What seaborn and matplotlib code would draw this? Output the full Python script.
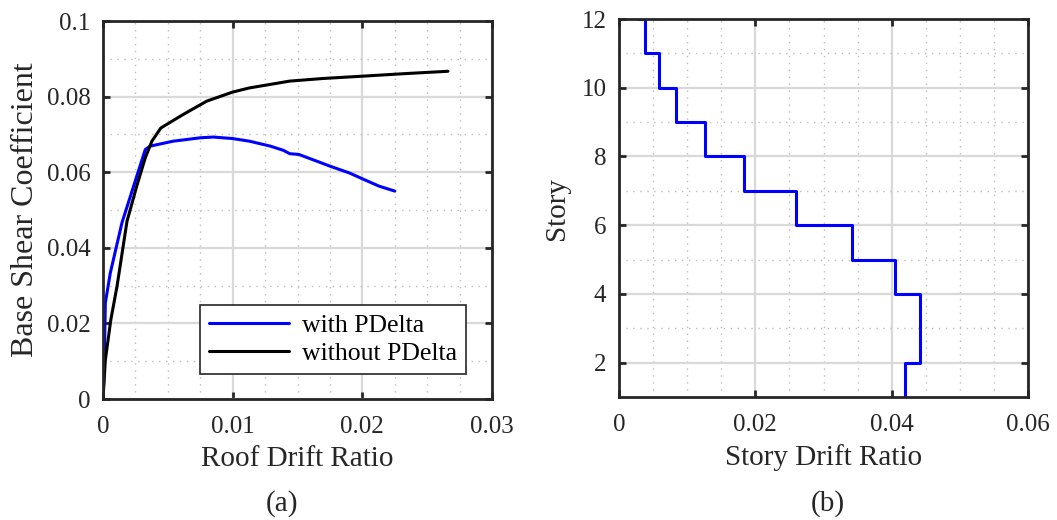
import numpy as np
import pandas as pd
import matplotlib
matplotlib.use("Agg")
import matplotlib.pyplot as plt
from matplotlib.ticker import MultipleLocator, FuncFormatter
import seaborn as sns

# ---- data ----
roof_drift_with = [0.0, 0.00008, 0.00018, 0.00056, 0.00146, 0.00236, 0.00326, 0.00364, 0.0054,
                   0.0075, 0.0085, 0.0100, 0.0113, 0.0129, 0.0139, 0.0144, 0.0151, 0.0165,
                   0.0175, 0.0190, 0.0203, 0.0213, 0.0225]
base_shear_with = [0.0, 0.0064, 0.0254, 0.0333, 0.0466, 0.0563, 0.0660, 0.0669, 0.0682,
                   0.0691, 0.0693, 0.0689, 0.0682, 0.0669, 0.0658, 0.0649, 0.0647, 0.0629,
                   0.0616, 0.0598, 0.0578, 0.0563, 0.0550]

roof_drift_without = [0.0, 0.00018, 0.0006, 0.00108, 0.00185, 0.0026, 0.00326, 0.00377, 0.00446,
                      0.0062, 0.0080, 0.0100, 0.0113, 0.0144, 0.0170, 0.0200, 0.0234, 0.0266]
base_shear_without = [0.0, 0.0103, 0.0209, 0.0298, 0.0470, 0.0563, 0.0638, 0.0682, 0.0717,
                      0.0753, 0.0788, 0.0812, 0.0823, 0.0841, 0.0848, 0.0854, 0.0861, 0.0867]

stories = [1, 2, 3, 4, 5, 6, 7, 8, 9, 10, 11, 12]
story_drift = [0.0420, 0.0442, 0.0442, 0.0405, 0.0342, 0.0259, 0.0184, 0.0126,
               0.0083, 0.0058, 0.0038, 0.0028]

legend_labels = ["with PDelta", "without PDelta"]

# ---- style ----
sns.set_style("white")
plt.rcParams["font.family"] = ["Liberation Serif", "DejaVu Serif"]

fig = plt.figure(figsize=(10.57, 5.2), dpi=100)
ax1 = fig.add_axes([103/1057, 1-399/520, 389/1057, 378/520])
ax2 = fig.add_axes([619/1057, 1-397/520, 409/1057, 378/520])

sns.lineplot(x=roof_drift_with, y=base_shear_with, ax=ax1, color="#0000ff", lw=2.2,
             sort=False, estimator=None, label=legend_labels[0])
sns.lineplot(x=roof_drift_without, y=base_shear_without, ax=ax1, color="black", lw=2.2,
             sort=False, estimator=None, label=legend_labels[1])

sns.lineplot(x=story_drift, y=stories, ax=ax2, color="#0000ff", lw=2.2, sort=False,
             estimator=None, orient="y", drawstyle="steps-pre")

fmt = FuncFormatter(lambda v, p: f"{v:g}")

def style(ax, xlim, ylim, xmaj, xmin, ymaj, ymin):
    ax.set_xlim(*xlim)
    ax.set_ylim(*ylim)
    ax.xaxis.set_major_locator(MultipleLocator(xmaj))
    ax.xaxis.set_minor_locator(MultipleLocator(xmin))
    ax.yaxis.set_major_locator(MultipleLocator(ymaj))
    ax.yaxis.set_minor_locator(MultipleLocator(ymin))
    ax.xaxis.set_major_formatter(fmt)
    ax.yaxis.set_major_formatter(fmt)
    ax.grid(which="major", color="#d9d9d9", lw=1.6, ls="-")
    ax.grid(which="minor", color="#bdbdbd", lw=1.0, ls=(0, (1, 4)))
    ax.set_axisbelow(True)
    for s in ax.spines.values():
        s.set_color("#262626")
        s.set_linewidth(2.0)
        s.set_visible(True)
        s.set_zorder(5)
    ax.tick_params(which="major", direction="in", length=5, width=2, color="#262626",
                   top=True, right=True, bottom=True, left=True, labelsize=18,
                   labelcolor="#262626")
    ax.tick_params(which="minor", length=0)
    ax.tick_params(axis="x", pad=12)
    ax.tick_params(axis="y", pad=9)

style(ax1, (0, 0.03), (0, 0.1), 0.01, 0.0025, 0.02, 0.01)
style(ax2, (0, 0.06), (1, 12), 0.02, 0.005, 2, 1)

ax1.set_xlabel("Roof Drift Ratio", fontsize=21, color="#262626", labelpad=6)
ax1.set_ylabel("Base Shear Coefficient", fontsize=23, color="#262626", labelpad=5)
ax2.set_xlabel("Story Drift Ratio", fontsize=21, color="#262626", labelpad=6)
ax2.set_ylabel("Story", fontsize=21, color="#262626", labelpad=8)

leg = ax1.legend(loc="lower right", bbox_to_anchor=(0.933, 0.066), borderaxespad=0,
                 fontsize=18.5, frameon=True, fancybox=False, handlelength=3.1,
                 handletextpad=0.5, borderpad=0.35, labelspacing=0.2)
leg.get_frame().set_edgecolor("#262626")
leg.get_frame().set_linewidth(1.2)
leg.get_frame().set_alpha(1)
for t in leg.get_texts():
    t.set_color("black")
if ax2.get_legend() is not None:
    ax2.get_legend().remove()

fig.text(282/1057, 1-504/520, "(a)", ha="center", va="center", fontsize=21, color="#262626")
fig.text(828/1057, 1-504/520, "(b)", ha="center", va="center", fontsize=21, color="#262626")

fig.savefig("out.png", dpi=100)
